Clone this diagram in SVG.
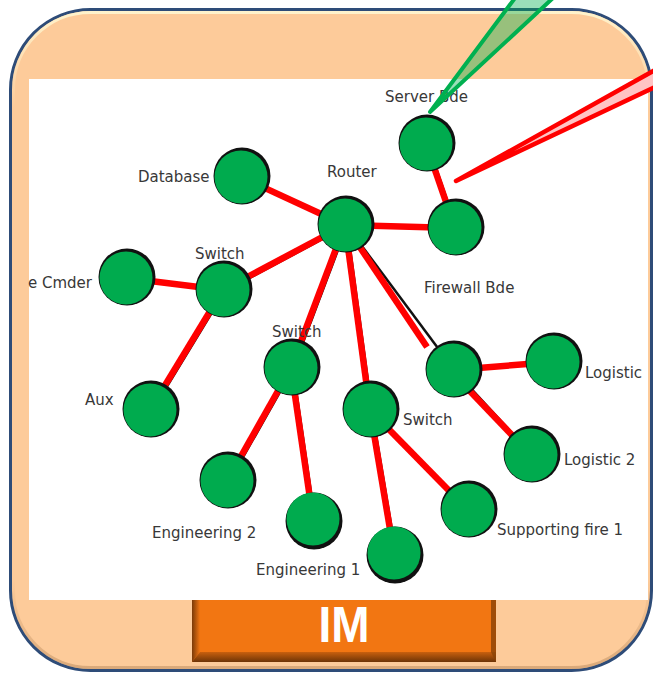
<svg xmlns="http://www.w3.org/2000/svg" width="653" height="673" viewBox="0 0 653 673">
  <defs>
    <linearGradient id="rimGlow" x1="0" y1="0" x2="0" y2="673" gradientUnits="userSpaceOnUse">
      <stop offset="0" stop-color="#FFF8D2" stop-opacity="1"/>
      <stop offset="0.16" stop-color="#FFF8D2" stop-opacity="0"/>
      <stop offset="0.86" stop-color="#B98A5C" stop-opacity="0"/>
      <stop offset="1" stop-color="#B98A5C" stop-opacity="0.55"/>
    </linearGradient>
    <linearGradient id="bevelLeft" x1="0" y1="0" x2="1" y2="0">
      <stop offset="0" stop-color="#7A3A08"/>
      <stop offset="1" stop-color="#F27612"/>
    </linearGradient>
    <linearGradient id="bevelBottom" x1="0" y1="0" x2="0" y2="1">
      <stop offset="0" stop-color="#C8600E"/>
      <stop offset="1" stop-color="#6E3406"/>
    </linearGradient>
  </defs>
  <style>
    .lbl { font-family: "DejaVu Sans", "Noto Sans", sans-serif; font-size: 15px; fill: #383838; }
    .edge-sh { stroke: #111111; stroke-width: 2.5; fill: none; }
    .edge { stroke: #FF0000; stroke-width: 6.5; fill: none; }
    .ring { fill: #111111; }
    .node { fill: #00AB4E; }
  </style>

  <!-- frame -->
  <rect x="10.5" y="9.5" width="641" height="661" rx="80" fill="#FDCB9A" stroke="#2E4C78" stroke-width="3"/>
  <rect x="13.5" y="12.5" width="635" height="655" rx="77" fill="none" stroke="url(#rimGlow)" stroke-width="3"/>
  <rect x="29" y="79" width="619" height="521" fill="#FFFFFF"/>

  <!-- title plate -->
  <g id="title">
    <rect x="192" y="600" width="304" height="62" fill="#F27612"/>
    <polygon points="192,600 200,600 200,652 192,662" fill="url(#bevelLeft)"/>
    <polygon points="192,662 200,652 496,652 496,662" fill="url(#bevelBottom)"/>
    <polygon points="491,600 496,600 496,662 491,652" fill="#8A4408" opacity="0.8"/>
    <text x="344" y="642" text-anchor="middle" font-family="Liberation Sans, Arial, sans-serif" font-weight="bold" font-size="50" fill="#FFFFFF" textLength="51" lengthAdjust="spacingAndGlyphs">IM</text>
  </g>

  <!-- connectors: thin dark shadow under a thick red line -->
  <g id="connectors">
    <g transform="translate(2,1)">
      <line class="edge-sh" x1="345" y1="225" x2="241" y2="177"/>
      <line class="edge-sh" x1="345" y1="225" x2="455" y2="228"/>
      <line class="edge-sh" x1="426" y1="144" x2="455" y2="228"/>
      <line class="edge-sh" x1="345" y1="225" x2="223" y2="290"/>
      <line class="edge-sh" x1="223" y1="290" x2="126" y2="278"/>
      <line class="edge-sh" x1="223" y1="290" x2="150" y2="410"/>
      <line class="edge-sh" x1="345" y1="225" x2="291" y2="368"/>
      <line class="edge-sh" x1="345" y1="225" x2="370" y2="410"/>
      <line class="edge-sh" x1="345" y1="225" x2="453" y2="370"/>
      <line class="edge-sh" x1="291" y1="368" x2="227" y2="481"/>
      <line class="edge-sh" x1="291" y1="368" x2="313" y2="519"/>
      <line class="edge-sh" x1="370" y1="410" x2="394" y2="553"/>
      <line class="edge-sh" x1="370" y1="410" x2="468" y2="510"/>
      <line class="edge-sh" x1="453" y1="370" x2="553" y2="362"/>
      <line class="edge-sh" x1="453" y1="370" x2="531" y2="455"/>
    </g>
    <line class="edge" x1="345" y1="225" x2="241" y2="177"/>
    <line class="edge" x1="345" y1="225" x2="455" y2="228"/>
    <line class="edge" x1="426" y1="144" x2="455" y2="228"/>
    <line class="edge" x1="345" y1="225" x2="223" y2="290"/>
    <line class="edge" x1="223" y1="290" x2="126" y2="278"/>
    <line class="edge" x1="223" y1="290" x2="150" y2="410"/>
    <line class="edge" x1="345" y1="225" x2="291" y2="368"/>
    <line class="edge" x1="345" y1="225" x2="370" y2="410"/>
    <line class="edge" x1="345" y1="225" x2="427" y2="347"/>
    <line class="edge" x1="291" y1="368" x2="227" y2="481"/>
    <line class="edge" x1="291" y1="368" x2="313" y2="519"/>
    <line class="edge" x1="370" y1="410" x2="394" y2="553"/>
    <line class="edge" x1="370" y1="410" x2="468" y2="510"/>
    <line class="edge" x1="453" y1="370" x2="553" y2="362"/>
    <line class="edge" x1="466" y1="387" x2="531" y2="455"/>
  </g>

  <!-- nodes -->
  <g id="server">
    <circle class="ring" cx="427" cy="143" r="28.5"/>
    <circle class="node" cx="426" cy="144" r="26.5"/>
    <text class="lbl" x="385" y="102">Server Bde</text>
  </g>
  <g id="router">
    <circle class="ring" cx="346" cy="224" r="28.5"/>
    <circle class="node" cx="345" cy="225" r="26.5"/>
    <text class="lbl" x="327" y="177">Router</text>
  </g>
  <g id="firewall">
    <circle class="ring" cx="456" cy="227" r="28.5"/>
    <circle class="node" cx="455" cy="228" r="26.5"/>
    <text class="lbl" x="424" y="293">Firewall Bde</text>
  </g>
  <g id="database">
    <circle class="ring" cx="242" cy="176" r="28.5"/>
    <circle class="node" cx="241" cy="177" r="26.5"/>
    <text class="lbl" x="138" y="182">Database</text>
  </g>
  <g id="switch-west">
    <circle class="ring" cx="224" cy="289" r="28.5"/>
    <circle class="node" cx="223" cy="290" r="26.5"/>
    <text class="lbl" x="195" y="259">Switch</text>
  </g>
  <g id="cmder">
    <circle class="ring" cx="127" cy="277" r="28.5"/>
    <circle class="node" cx="126" cy="278" r="26.5"/>
    <text class="lbl" x="28" y="288">e Cmder</text>
  </g>
  <g id="aux">
    <circle class="ring" cx="151" cy="409" r="28.5"/>
    <circle class="node" cx="150" cy="410" r="26.5"/>
    <text class="lbl" x="85" y="405">Aux</text>
  </g>
  <g id="switch-centre">
    <circle class="ring" cx="292" cy="367" r="28.5"/>
    <circle class="node" cx="291" cy="368" r="26.5"/>
    <text class="lbl" x="272" y="337">Switch</text>
  </g>
  <g id="switch-south">
    <circle class="ring" cx="371" cy="409" r="28.5"/>
    <circle class="node" cx="370" cy="410" r="26.5"/>
    <text class="lbl" x="403" y="425">Switch</text>
  </g>
  <g id="switch-east">
    <circle class="ring" cx="454" cy="369" r="28.5"/>
    <circle class="node" cx="453" cy="370" r="26.5"/>
  </g>
  <g id="logistic">
    <circle class="ring" cx="554" cy="361" r="28.5"/>
    <circle class="node" cx="553" cy="362" r="26.5"/>
    <text class="lbl" x="585" y="378">Logistic</text>
  </g>
  <g id="logistic-2">
    <circle class="ring" cx="532" cy="454" r="28.5"/>
    <circle class="node" cx="531" cy="455" r="26.5"/>
    <text class="lbl" x="564" y="465">Logistic 2</text>
  </g>
  <g id="supporting-fire-1">
    <circle class="ring" cx="469" cy="509" r="28.5"/>
    <circle class="node" cx="468" cy="510" r="26.5"/>
    <text class="lbl" x="497" y="535">Supporting fire 1</text>
  </g>
  <g id="engineering-2">
    <circle class="ring" cx="228" cy="480" r="28.5"/>
    <circle class="node" cx="227" cy="481" r="26.5"/>
    <text class="lbl" x="152" y="538">Engineering 2</text>
  </g>
  <g id="engineering-1">
    <circle class="ring" cx="314" cy="521" r="28.5"/>
    <circle class="node" cx="313" cy="519" r="26.5"/>
    <text class="lbl" x="256" y="575">Engineering 1</text>
  </g>
  <g id="leaf">
    <circle class="ring" cx="395" cy="555" r="28.5"/>
    <circle class="node" cx="394" cy="553" r="26.5"/>
  </g>

  <!-- callout pointers -->
  <g id="pointer-green">
    <polygon points="515,0 553,0 430,112" fill="#00B050" fill-opacity="0.4"/>
    <polyline points="515,-2 430,112 553,-2" fill="none" stroke="#00B050" stroke-width="4" stroke-linejoin="round"/>
  </g>
  <g id="pointer-red">
    <polygon points="655,70 655,87 456,181" fill="#FFC4C4"/>
    <polyline points="655,70 456,181 655,87" fill="none" stroke="#FF0000" stroke-width="4.5" stroke-linejoin="round"/>
  </g>
</svg>
